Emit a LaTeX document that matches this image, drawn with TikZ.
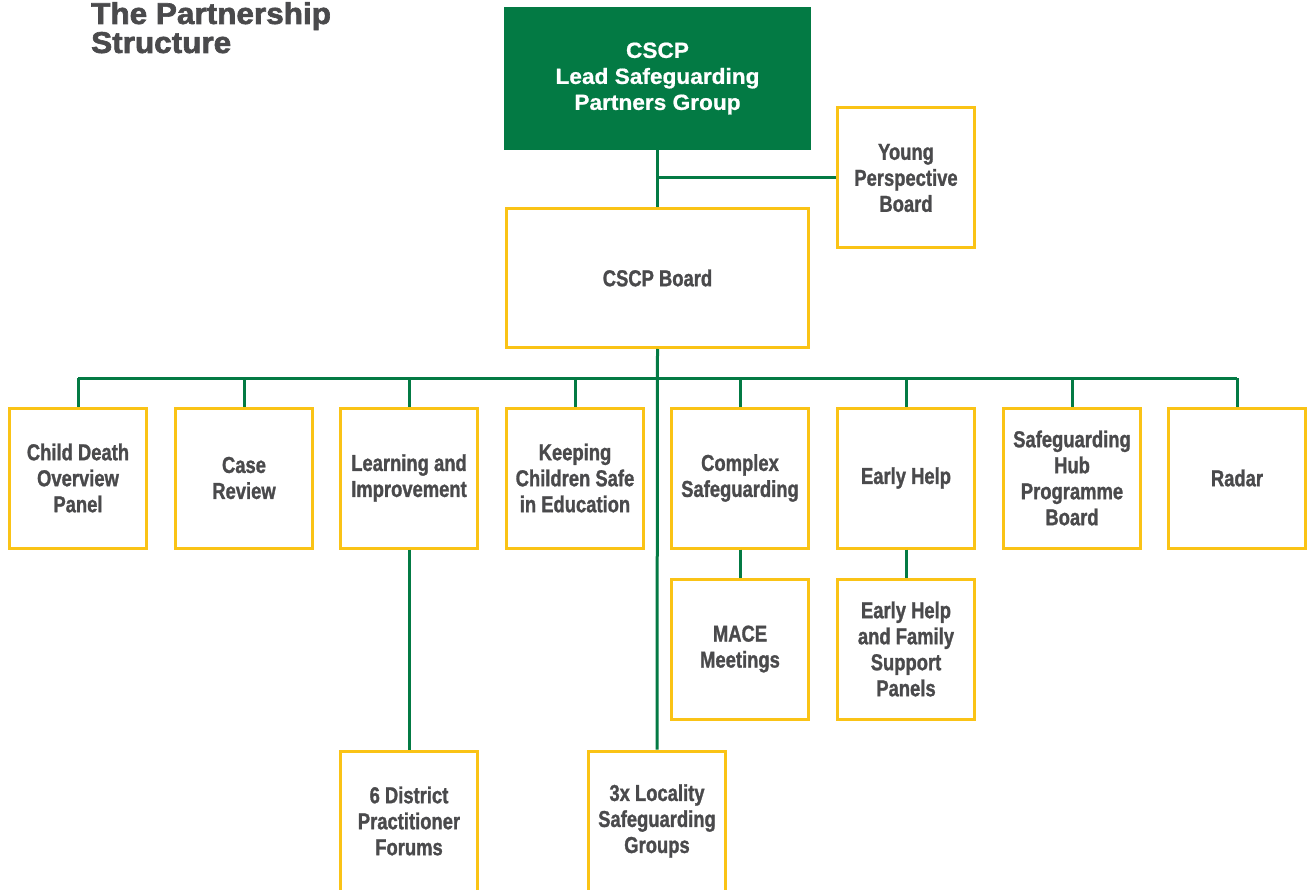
\documentclass[tikz,border=0pt]{standalone}
\usepackage{fontspec}
\newfontfamily\boxfont[FakeStretch=0.8, BoldFeatures={FakeBold=1.2}]{Liberation Sans}
\newfontfamily\headfont[FakeStretch=1.05, BoldFeatures={FakeBold=2.2}]{Liberation Sans}
\newfontfamily\leadfont[FakeStretch=1.03, BoldFeatures={FakeBold=0.8}]{Liberation Sans}
\definecolor{cscpgreen}{HTML}{037A44}
\definecolor{cscpyellow}{HTML}{FAC316}
\definecolor{cscpgrey}{HTML}{4A4A4C}
\begin{document}
\begin{tikzpicture}[x=1pt, y=-1pt,
    panel/.style={draw=cscpyellow, line width=3pt, fill=white,
      minimum width=137pt, minimum height=140pt, inner sep=0pt,
      align=center, text=cscpgrey,
      font=\boxfont\bfseries\fontsize{23}{26}\selectfont},
    link/.style={draw=cscpgreen, line width=3pt}]
  \useasboundingbox (0,0) rectangle (1314,890);
  \clip (0,0) rectangle (1314,890);

  % Title in the top left corner
  \node [anchor=north west, inner sep=0pt, align=left, text=cscpgrey,
    font=\headfont\bfseries\fontsize{30}{29}\selectfont]
    (title) at (91,2) {The Partnership\\Structure};

  % The lead group and the board
  \node [fill=cscpgreen, minimum width=307pt, minimum height=143pt,
    inner sep=0pt, align=center, text=white,
    font=\leadfont\bfseries\fontsize{22}{26}\selectfont]
    (lead) at (657.5,78.5) {CSCP\\Lead Safeguarding\\Partners Group};
  \node [panel, minimum width=302pt, minimum height=139pt] (board) at (657.5,278) {CSCP Board};
  \node [panel] (young) at (906,178) {Young\\Perspective\\Board};
  \draw [link] (lead.south) -- (board.north);
  \draw [link] (young.west) -- (young.west -| lead.south);

  % The bus under the board and the locality line through it
  \coordinate (bus) at (657.5,378);
  \node [panel] (locality) at (657,821) {3x Locality\\Safeguarding\\Groups};
  \draw [link] (board.south) -- (locality.north);

  % Row of subgroups hanging from the bus
  \foreach \name/\xc/\lab in {
      cdop/78/{Child Death\\Overview\\Panel},
      review/244/{Case\\Review},
      learning/409/{Learning and\\Improvement},
      kcsie/575/{Keeping\\Children Safe\\in Education},
      complex/740/{Complex\\Safeguarding},
      earlyhelp/906/{Early Help},
      hub/1072/{Safeguarding\\Hub\\Programme\\Board},
      radar/1237/{Radar}} {
    \node [panel] (\name) at (\xc,478) {\lab};
    \draw [link] (\name.north) -- (\name.north |- bus);
  }
  \draw [link] (cdop.north |- bus) -- (radar.north |- bus);

  % Groups below the row
  \node [panel] (mace) at (740,649) {MACE\\Meetings};
  \node [panel] (ehfsp) at (906,649) {Early Help\\and Family\\Support\\Panels};
  \node [panel] (district) at (409,821) {6 District\\Practitioner\\Forums};
  \draw [link] (complex.south) -- (mace.north);
  \draw [link] (earlyhelp.south) -- (ehfsp.north);
  \draw [link] (learning.south) -- (district.north);
\end{tikzpicture}
\end{document}
